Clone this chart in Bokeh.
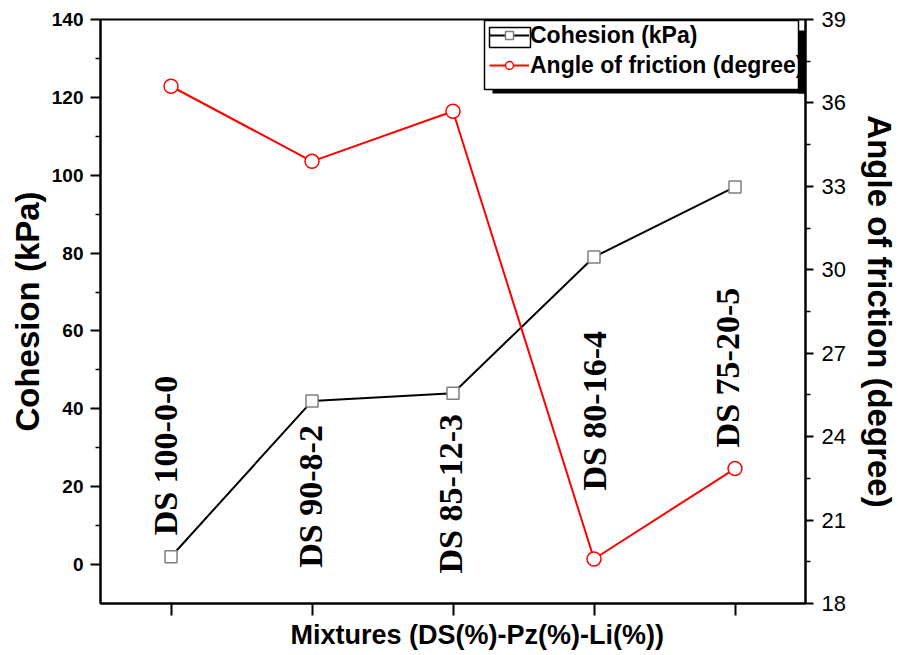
import numpy as np
from bokeh.plotting import figure
from bokeh.models import (Range1d, LinearAxis, FixedTicker, Legend, LegendItem,
                          BoxAnnotation, ColumnDataSource, Title)
from bokeh.core.properties import value
from bokeh.embed import file_html
from bokeh.resources import INLINE

# ---------------- data ----------------
mixtures = ["DS 100-0-0", "DS 90-8-2", "DS 85-12-3", "DS 80-16-4", "DS 75-20-5"]
cohesion = [2, 42, 44, 79, 97]                    # kPa
friction = [36.6, 33.9, 35.7, 19.6, 22.85]        # degree
cohesion_ticks = [0, 20, 40, 60, 80, 100, 120, 140]
friction_ticks = [18, 21, 24, 27, 30, 33, 36, 39]

# placement of the rotated mixture labels (category offset, start on cohesion scale)
label_dx = [-0.04, -0.01, -0.02, 0.0, -0.05]
label_y0 = [7.5, -0.8, -2.3, 19.0, 30.1]

FW, FH = 705, 584
XR = (-0.5, 4.5)
YR = (-10, 140)

def fx(px):
    return XR[0] + px * (XR[1] - XR[0]) / FW

def fy(py):
    return YR[1] - py * (YR[1] - YR[0]) / FH

xs = list(range(len(mixtures)))

p = figure(frame_width=FW, frame_height=FH,
           x_range=Range1d(*XR), y_range=Range1d(*YR),
           output_backend="svg", toolbar_location=None,
           min_border_left=100, min_border_right=92,
           min_border_top=19, min_border_bottom=50)
p.extra_y_ranges = {"angle": Range1d(18, 39)}
p.xgrid.visible = False
p.ygrid.visible = False
p.outline_line_color = "black"
p.outline_line_width = 2
p.background_fill_color = "white"
p.border_fill_color = "white"

SANS = "Liberation Sans"

# left axis
ya = p.yaxis[0]
ya.ticker = FixedTicker(ticks=cohesion_ticks,
                        minor_ticks=[(a + b) / 2 for a, b in zip(cohesion_ticks[:-1], cohesion_ticks[1:])])
ya.axis_label = "Cohesion (kPa)"

# bottom axis (ticks only; title added below as a Title)
xa = p.xaxis[0]
xa.ticker = FixedTicker(ticks=xs, minor_ticks=[])
xa.major_label_overrides = {i: "" for i in xs}
xa.major_label_standoff = 0

# right axis
ra = LinearAxis(y_range_name="angle",
                ticker=FixedTicker(ticks=friction_ticks,
                                   minor_ticks=[(a + b) / 2 for a, b in zip(friction_ticks[:-1], friction_ticks[1:])]),
                axis_label="Angle of friction (degree)")
p.add_layout(ra, "right")

for ax in (ya, xa, ra):
    ax.axis_line_color = "black"
    ax.axis_line_width = 2
    ax.major_tick_line_color = "black"
    ax.major_tick_line_width = 2
    ax.minor_tick_line_color = "black"
    ax.minor_tick_line_width = 1.5
    ax.major_tick_in = 0
    ax.minor_tick_in = 0
    ax.axis_label_text_font = SANS
    ax.axis_label_text_font_style = "bold"
    ax.axis_label_text_color = "black"
    ax.major_label_text_font = SANS
    ax.major_label_text_color = "black"

ya.major_tick_out = 10
ya.minor_tick_out = 5
ya.major_label_text_font_size = "19px"
ya.major_label_text_font_style = "bold"
ya.major_label_standoff = 7
ya.axis_label_text_font_size = "33px"
ya.axis_label_standoff = 3

ra.major_tick_out = 8
ra.minor_tick_out = 5
ra.major_label_text_font_size = "22px"
ra.major_label_text_font_style = "normal"
ra.major_label_standoff = 8
ra.axis_label_text_font_size = "33px"
ra.axis_label_standoff = 12

xa.major_tick_out = 12
xa.major_label_text_font_size = "8px"

p.add_layout(Title(text="Mixtures (DS(%)-Pz(%)-Li(%))", align="left", offset=190,
                   text_font=SANS, text_font_style="bold", text_font_size="27px",
                   text_color="black", standoff=5), "below")

src = ColumnDataSource(dict(x=xs, coh=cohesion, fr=friction))
l1 = p.line("x", "coh", source=src, line_color="black", line_width=2)
s1 = p.scatter("x", "coh", source=src, marker="square", size=12,
               line_color="#808080", fill_color="white", line_width=1.5)
l2 = p.line("x", "fr", source=src, y_range_name="angle", line_color="#ff0000", line_width=2)
s2 = p.scatter("x", "fr", source=src, y_range_name="angle", marker="circle", size=14,
               line_color="#ff0000", fill_color="white", line_width=1.5)

lab_src = ColumnDataSource(dict(x=[x + d for x, d in zip(xs, label_dx)], y=label_y0, text=mixtures))
p.text("x", "y", "text", source=lab_src, angle=np.pi / 2, text_align="left",
       text_baseline="middle", text_font=value("Liberation Serif"),
       text_font_style="bold", text_font_size="34px", text_color="black")

# legend box, frame around the first sample, legend, shadow
p.add_layout(BoxAnnotation(left=fx(384), right=fx(698), top=fy(1), bottom=fy(70),
                           fill_color="white", fill_alpha=1, line_color="black",
                           line_width=1.5, line_alpha=1))
p.add_layout(BoxAnnotation(left=fx(389), right=fx(430), top=fy(8), bottom=fy(28),
                           fill_alpha=0, line_color="black", line_width=1.5, line_alpha=1))
legend = Legend(items=[LegendItem(label="Cohesion (kPa)", renderers=[l1, s1]),
                       LegendItem(label="Angle of friction (degree)", renderers=[l2, s2])],
                location=(389, FH - 60), margin=0, padding=0, spacing=2,
                glyph_width=40, glyph_height=20, label_height=28, label_standoff=1,
                label_text_font=SANS, label_text_font_style="bold",
                label_text_font_size="23px", label_text_color="black",
                border_line_alpha=0, background_fill_alpha=0)
p.add_layout(legend, "center")
p.add_layout(BoxAnnotation(left=fx(698), right=fx(705), top=fy(11), bottom=fy(74),
                           fill_color="black", fill_alpha=1, line_alpha=0))
p.add_layout(BoxAnnotation(left=fx(392), right=fx(705), top=fy(70), bottom=fy(74),
                           fill_color="black", fill_alpha=1, line_alpha=0))

open("out.html", "w").write(file_html(p, INLINE))
